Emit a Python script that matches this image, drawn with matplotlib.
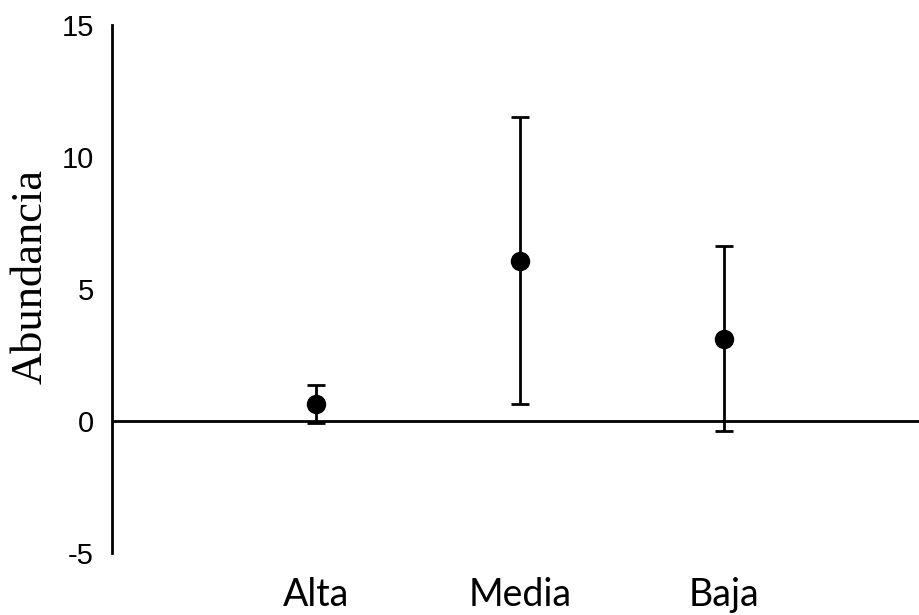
import matplotlib
matplotlib.use("Agg")
import matplotlib.pyplot as plt

categories = ["Alta", "Media", "Baja"]
means = [0.65, 6.07, 3.12]
errors = [0.71, 5.43, 3.51]
y_ticks = [-5, 0, 5, 10, 15]

W, H = 920, 615
fig = plt.figure(figsize=(W / 100, H / 100), dpi=100)
ax = fig.add_axes([112 / W, 1 - 553 / H, (W - 112) / W, (553 - 25) / H])

x = list(range(1, len(categories) + 1))
ax.errorbar(x, means, yerr=errors, fmt="o", color="black", ms=13,
            elinewidth=2, capsize=6.8, capthick=2, zorder=3)

ax.set_ylim(-5, 15)
ax.set_xlim(0, 808 / 204)
ax.set_yticks(y_ticks)
ax.set_yticklabels([str(t) for t in y_ticks], fontsize=21, family="Liberation Sans")
ax.tick_params(axis="y", length=0, pad=13)
ax.set_xticks([])

for s in ["top", "right", "bottom"]:
    ax.spines[s].set_visible(False)
ax.spines["left"].set_linewidth(2)
ax.axhline(0, color="black", lw=2, zorder=2)

for xi, c in zip(x, categories):
    ax.annotate(c, xy=(xi, 0), xycoords=("data", "axes fraction"),
                xytext=(0, -(595 - 553)), textcoords="offset pixels",
                ha="center", va="center", fontsize=27, family="Lato")

fig.text(31 / W, 1 - 277 / H, "Abundancia", rotation=90, ha="center", va="center",
         fontsize=32, family="Liberation Serif")

fig.savefig("out.png", dpi=100)
